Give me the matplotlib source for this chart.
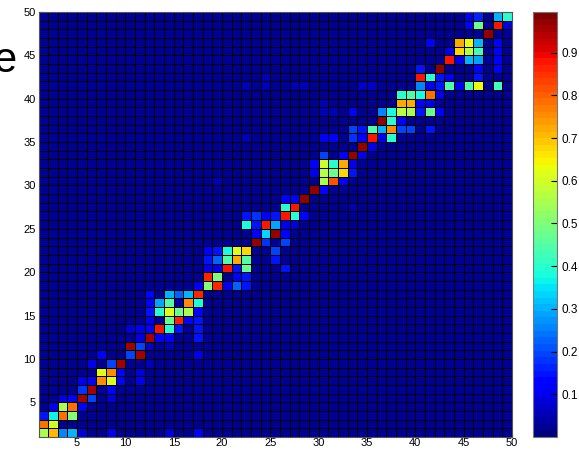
import numpy as np
import matplotlib
matplotlib.use("Agg")
import matplotlib.pyplot as plt

plt.rcParams['font.family'] = ['Liberation Sans', 'DejaVu Sans']

# 50x50 grid drawn pcolor-style: 49x49 visible cells, cell (r, c) spans [c, c+1] x [r, r+1]
n = 50
base_level = 0.03

# the bright cells along the diagonal (row, col, value)
hot_rows = [1, 1, 1, 1, 1, 1, 1, 1,
            2, 2,
            3, 3, 3, 3,
            4, 4, 4, 4,
            5, 5, 5, 5, 5,
            6, 6, 6,
            7, 7, 7, 7, 7, 7,
            8, 8, 8, 8,
            9, 9, 9,
            10, 10, 10, 10,
            11, 11, 11,
            12, 12, 12, 12, 12,
            13, 13, 13, 13, 13,
            14, 14, 14, 14, 14,
            15, 15, 15, 15, 15, 15,
            16, 16, 16, 16, 16, 16,
            17, 17, 17, 17, 17,
            18, 18, 18, 18, 18, 18,
            19, 19, 19, 19,
            20, 20, 20, 20, 20, 20,
            21, 21, 21, 21, 21, 21,
            22, 22, 22, 22, 22, 22,
            23, 23, 23,
            24, 24, 24, 24,
            25, 25, 25, 25, 25, 25,
            26, 26, 26, 26, 26, 26, 26,
            27, 27,
            28, 28, 28,
            29, 29,
            30, 30, 30,
            31, 31, 31, 31, 31,
            32, 32, 32, 32, 32,
            33, 33, 33, 33,
            34, 34,
            35, 35, 35, 35, 35, 35, 35,
            36, 36, 36, 36, 36, 36, 36, 36,
            37, 37, 37,
            38, 38, 38, 38, 38, 38, 38, 38,
            39, 39, 39, 39,
            40, 40, 40, 40, 40,
            41, 41, 41, 41, 41, 41, 41, 41,
            42, 42, 42, 42, 42,
            43, 43, 43, 43,
            44, 44, 44, 44, 44,
            45, 45, 45, 45, 45,
            46, 46, 46, 46, 46,
            47,
            48, 48, 48, 48,
            49, 49, 49, 49]
hot_cols = [1, 2, 3, 4, 5, 8, 14, 17,
            1, 2,
            1, 2, 3, 4,
            2, 3, 4, 5,
            3, 4, 5, 6, 8,
            5, 6, 8,
            5, 6, 7, 8, 9, 11,
            7, 8, 9, 11,
            6, 8, 9,
            7, 10, 11, 17,
            10, 11, 12,
            11, 12, 13, 14, 17,
            12, 13, 14, 15, 17,
            12, 14, 15, 16, 17,
            12, 13, 14, 15, 16, 17,
            12, 13, 14, 15, 16, 17,
            12, 14, 15, 16, 17,
            17, 18, 19, 20, 21, 22,
            18, 19, 21, 22,
            18, 19, 20, 21, 22, 26,
            18, 19, 20, 21, 22, 25,
            18, 19, 20, 21, 22, 25,
            23, 24, 26,
            23, 24, 25, 26,
            22, 23, 24, 25, 26, 27,
            22, 23, 24, 25, 26, 27, 28,
            26, 27,
            26, 27, 28,
            29, 30,
            30, 31, 32,
            29, 30, 31, 32, 33,
            29, 30, 31, 32, 33,
            30, 32, 33, 34,
            34, 35,
            30, 31, 33, 34, 35, 36, 37,
            33, 34, 35, 36, 37, 38, 39, 41,
            36, 37, 38,
            33, 36, 37, 38, 39, 40, 41, 42,
            38, 39, 40, 41,
            38, 39, 40, 41, 42,
            40, 41, 42, 43, 44, 45, 46, 48,
            40, 41, 42, 43, 46,
            40, 42, 46, 48,
            43, 44, 45, 46, 48,
            43, 44, 45, 46, 48,
            41, 44, 45, 46, 48,
            47,
            45, 46, 48, 49,
            45, 46, 48, 49]
hot_vals = [0.55, 0.70, 0.25, 0.30, 0.08, 0.10, 0.08, 0.12,
            0.78, 0.60,
            0.15, 0.37, 0.78, 0.50,
            0.10, 0.55, 0.78, 0.12,
            0.10, 0.12, 0.95, 0.20, 0.08,
            0.18, 0.95, 0.12,
            0.10, 0.12, 0.75, 0.62, 0.13, 0.10,
            0.62, 0.75, 0.12, 0.08,
            0.10, 0.20, 0.95,
            0.12, 0.20, 0.95, 0.10,
            0.95, 0.20, 0.06,
            0.08, 0.95, 0.12, 0.12, 0.15,
            0.12, 0.88, 0.40, 0.15, 0.15,
            0.10, 0.48, 0.87, 0.13, 0.15,
            0.15, 0.40, 0.62, 0.48, 0.55, 0.12,
            0.12, 0.28, 0.45, 0.04, 0.75, 0.38,
            0.13, 0.30, 0.22, 0.30, 0.87,
            0.10, 0.50, 0.87, 0.10, 0.22, 0.15,
            0.87, 0.50, 0.12, 0.15,
            0.10, 0.10, 0.88, 0.15, 0.48, 0.15,
            0.15, 0.22, 0.45, 0.73, 0.45, 0.15,
            0.12, 0.15, 0.38, 0.62, 0.67, 0.20,
            0.97, 0.18, 0.20,
            0.12, 0.33, 0.97, 0.12,
            0.38, 0.15, 0.88, 0.28, 0.10, 0.08,
            0.15, 0.18, 0.12, 0.15, 0.88, 0.40, 0.12,
            0.40, 0.88,
            0.13, 0.13, 0.97,
            0.97, 0.13,
            0.55, 0.82, 0.12,
            0.10, 0.57, 0.48, 0.67, 0.15,
            0.12, 0.60, 0.40, 0.73, 0.10,
            0.20, 0.12, 0.97, 0.10,
            0.97, 0.10,
            0.12, 0.12, 0.18, 0.12, 0.88, 0.10, 0.40,
            0.20, 0.15, 0.45, 0.30, 0.75, 0.20, 0.20, 0.15,
            0.97, 0.40, 0.12,
            0.12, 0.25, 0.38, 0.57, 0.55, 0.15, 0.47, 0.12,
            0.72, 0.72, 0.12, 0.10,
            0.40, 0.45, 0.38, 0.78, 0.10,
            0.25, 0.10, 0.15, 0.45, 0.10, 0.45, 0.63, 0.42,
            0.88, 0.40, 0.15, 0.10, 0.15,
            0.15, 0.97, 0.12, 0.12,
            0.88, 0.10, 0.30, 0.28, 0.12,
            0.10, 0.68, 0.57, 0.42, 0.12,
            0.12, 0.72, 0.63, 0.30, 0.12,
            0.97,
            0.13, 0.48, 0.88, 0.08,
            0.10, 0.17, 0.30, 0.40]

# a few faint cells in the background
faint_rows = [20, 21, 23, 35, 36, 41, 42, 30, 27, 9, 11, 13, 13,
              41, 41, 41, 41, 41, 39, 38, 38]
faint_cols = [26, 25, 26, 22, 33, 22, 24, 19, 33, 12, 14, 10, 11,
              24, 27, 28, 34, 35, 30, 30, 31]
faint_vals = [0.15, 0.13, 0.10, 0.06, 0.07, 0.06, 0.06, 0.06, 0.06, 0.06, 0.06, 0.08, 0.10,
              0.06, 0.06, 0.06, 0.07, 0.07, 0.06, 0.05, 0.05]

data = np.full((n - 1, n - 1), base_level)
for r, c, v in zip(faint_rows, faint_cols, faint_vals):
    data[r - 1, c - 1] = v
for r, c, v in zip(hot_rows, hot_cols, hot_vals):
    data[r - 1, c - 1] = v

W, H = 579, 450
fig = plt.figure(figsize=(W / 100, H / 100), dpi=100)
ax = fig.add_axes([38.5 / W, 13 / H, (512 - 38.5) / W, 425 / H])
cax = fig.add_axes([533 / W, 13 / H, 24 / W, 425 / H])

edges = np.arange(1, n + 1)
mesh = ax.pcolormesh(edges, edges, data, cmap=plt.get_cmap('jet', 64),
                     vmin=0.0, vmax=0.995, edgecolors='black', linewidth=0.6)
ax.set_xlim(1, 50)
ax.set_ylim(1, 50)
ax.set_xticks(range(5, 51, 5))
ax.set_yticks(range(5, 51, 5))
ax.tick_params(direction='in', length=3, labelsize=8, pad=2)
ax.tick_params(axis='x', pad=0.5)
for s in ax.spines.values():
    s.set_color('#555555')

cb = fig.colorbar(mesh, cax=cax, ticks=[0.1, 0.2, 0.3, 0.4, 0.5, 0.6, 0.7, 0.8, 0.9])
cb.ax.tick_params(direction='in', length=4, labelsize=8.5, pad=3)
cb.outline.set_edgecolor('#777777')

# cut-off letter at the left edge
fig.text(16 / W, 1 - 72 / H, 'e', fontsize=30, ha='right', va='baseline')

fig.savefig('out.png', dpi=100)
